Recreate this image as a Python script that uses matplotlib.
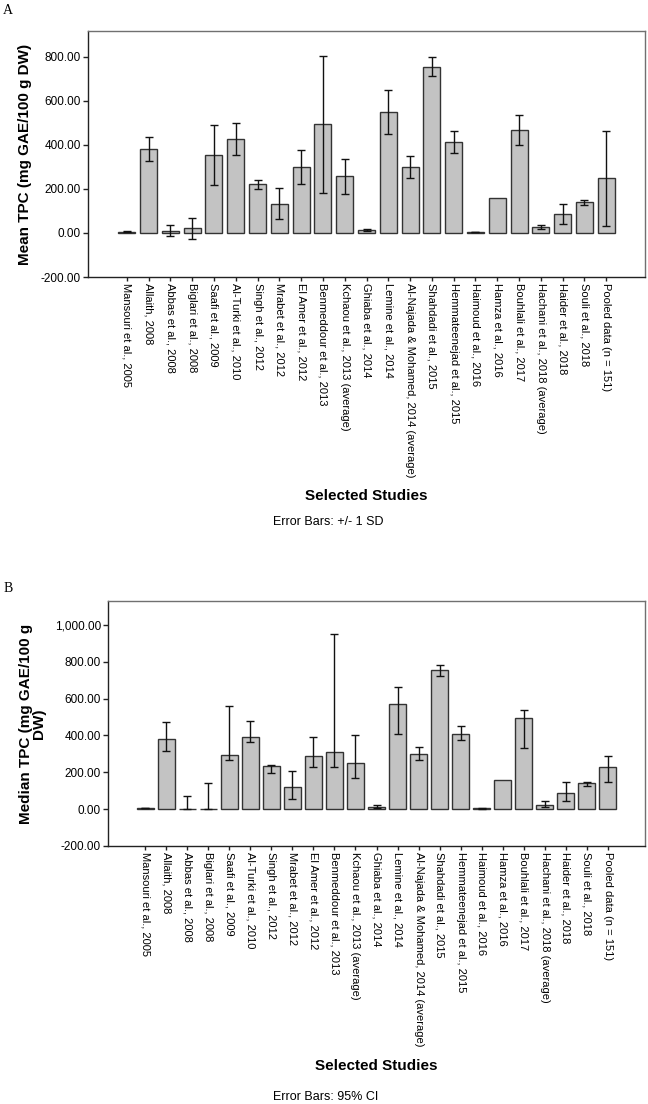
import matplotlib
matplotlib.use("Agg")
import matplotlib.pyplot as plt
import numpy as np
from matplotlib.ticker import FuncFormatter

plt.rcParams["font.family"] = ["Liberation Sans", "DejaVu Sans"]

studies = [
    "Mansouri et al., 2005", "Allaith, 2008", "Abbas et al., 2008",
    "Biglari et al., 2008", "Saafi et al., 2009", "Al-Turki et al., 2010",
    "Singh et al., 2012", "Mrabet et al., 2012", "El Amer et al., 2012",
    "Benmeddour et al., 2013", "Kchaou et al., 2013 (average)",
    "Ghiaba et al., 2014", "Lemine et al., 2014",
    "Al-Najada & Mohamed, 2014 (average)", "Shahdadi et al., 2015",
    "Hemmateenejad et al., 2015", "Haimoud et al., 2016", "Hamza et al., 2016",
    "Bouhlali et al., 2017", "Hachani et al., 2018 (average)",
    "Haider et al., 2018", "Souli et al., 2018", "Pooled data (n = 151)",
]

# panel A: mean and 1 SD
mean_tpc = [5, 382, 11, 21, 355, 427, 221, 134, 301, 494, 257, 15, 550,
            301, 756, 413, 5, 160, 468, 26, 88, 139, 248]
sd_tpc = [2, 56, 24, 48, 138, 72, 22, 70, 78, 312, 80, 5, 100,
          50, 42, 50, 1, np.nan, 69, 9, 45, 10, 216]

# panel B: median with 95% CI bounds
median_tpc = [7, 379, 3, 3, 293, 393, 232, 121, 290, 310, 248, 13, 571,
              301, 755, 408, 4, 161, 495, 22, 87, 140, 230]
ci_low = [4, 315, 0, 0, 266, 366, 194, 53, 230, 230, 168, 7, 406,
          265, 725, 373, 3, np.nan, 332, 13, 43, 127, 147]
ci_high = [9, 471, 72, 143, 561, 478, 239, 206, 393, 949, 404, 23, 663,
           335, 783, 453, 5, np.nan, 538, 42, 150, 150, 290]

W, H = 648, 1104
fig = plt.figure(figsize=(W / 100, H / 100), dpi=100)


def px_axes(left, top, right, bottom):
    return fig.add_axes([left / W, 1 - bottom / H, (right - left) / W, (bottom - top) / H])


def draw_panel(ax, vals, lo, hi, ylim, yticks):
    x = np.arange(len(studies))
    ax.bar(x, vals, width=0.78, color="#c3c3c3", edgecolor="#333333", linewidth=1.0, zorder=2)
    lo = np.asarray(lo, float)
    hi = np.asarray(hi, float)
    ok = np.isfinite(lo) & np.isfinite(hi)
    v = np.asarray(vals, float)
    ax.errorbar(x[ok], v[ok], yerr=[v[ok] - lo[ok], hi[ok] - v[ok]], fmt="none",
                ecolor="#111111", elinewidth=1.0, capsize=3, capthick=1.0, zorder=3)
    ax.set_xlim(-1.78, len(studies) - 1 + 1.78)
    ax.set_ylim(*ylim)
    ax.set_yticks(yticks)
    ax.yaxis.set_major_formatter(FuncFormatter(lambda v, p: f"{v:,.2f}"))
    ax.set_xticks(x)
    ax.set_xticklabels(studies, rotation=-90, ha="center", va="top", fontsize=8)
    ax.tick_params(axis="y", labelsize=8.5, length=3.5, width=1.0, color="#222222", pad=1.5)
    ax.tick_params(axis="x", length=3, width=1.0, color="#222222", pad=1)
    for s in ("top", "right"):
        ax.spines[s].set_color("#707070")
        ax.spines[s].set_linewidth(1.0)
    for s in ("left", "bottom"):
        ax.spines[s].set_color("#222222")
        ax.spines[s].set_linewidth(1.0)


# --- panel A ---
axA = px_axes(88, 31, 645, 277)
draw_panel(axA, mean_tpc, np.array(mean_tpc) - np.array(sd_tpc),
           np.array(mean_tpc) + np.array(sd_tpc), (-200, 918), np.arange(-200, 801, 200))
axA.set_ylabel("Mean TPC (mg GAE/100 g DW)", fontsize=11, fontweight="bold")
axA.yaxis.set_label_coords((32 - 88) / 557, 0.5)
fig.text(366 / W, 1 - 496 / H, "Selected Studies", ha="center", va="center",
         fontsize=11, fontweight="bold")
fig.text(328 / W, 1 - 522 / H, "Error Bars: +/- 1 SD", ha="center", va="center", fontsize=9)
fig.text(8 / W, 1 - 10 / H, "A", ha="center", va="center", fontsize=10,
         family=["Liberation Serif", "DejaVu Serif"])

# --- panel B ---
axB = px_axes(108, 601, 645, 846)
draw_panel(axB, median_tpc, ci_low, ci_high, (-200, 1130), np.arange(-200, 1001, 200))
axB.set_ylabel("Median TPC (mg GAE/100 g\nDW)", fontsize=11, fontweight="bold",
               linespacing=0.95)
axB.yaxis.set_label_coords((46 - 108) / 537, 0.5)
fig.text(376 / W, 1 - 1066 / H, "Selected Studies", ha="center", va="center",
         fontsize=11, fontweight="bold")
fig.text(326 / W, 1 - 1097 / H, "Error Bars: 95% CI", ha="center", va="center", fontsize=9)
fig.text(8 / W, 1 - 588 / H, "B", ha="center", va="center", fontsize=10,
         family=["Liberation Serif", "DejaVu Serif"])

fig.savefig("out.png", dpi=100)
